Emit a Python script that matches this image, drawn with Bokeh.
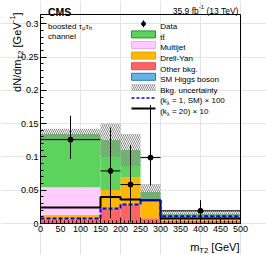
import math
import numpy as np
from bokeh.plotting import figure
from bokeh.models import (Label, BoxAnnotation, Arrow, SingleIntervalTicker,
                          FixedTicker, Range1d, LinearAxis)
from bokeh.embed import file_html
from bokeh.resources import INLINE

# ---------------- data ----------------
bin_edges = [0, 150, 200, 250, 300, 500]
higgs = [0.0003, 0.0003, 0.0003, 0.0003, 0.0002]
other_bkg = [0.006, 0.022, 0.028, 0.0075, 0.004]
drell_yan = [0.007, 0.028, 0.041, 0.026, 0.006]
multijet = [0.041, 0.0, 0.0, 0.0, 0.0]
ttbar = [0.080, 0.075, 0.041, 0.0135, 0.004]
bkg_unc = [0.008, 0.025, 0.024, 0.012, 0.006]
sig_sm_x100 = [0.0075, 0.0225, 0.0285, 0.035, 0.011]
sig_k20_x10 = [0.024, 0.040, 0.036, 0.035, 0.0075]
data_x = [75, 175, 225, 275, 400]
data_y = [0.126, 0.079, 0.0585, 0.099, 0.019]
data_hi = [0.162, 0.144, 0.118, 0.178, 0.035]
data_lo = [0.097, 0.008, 0.002, 0.057, 0.005]
y_ticks = [0.0, 0.05, 0.1, 0.15, 0.2, 0.25, 0.3]
y_tick_labels = ["0", "0.05", "0.1", "0.15", "0.2", "0.25", "0.3"]
y_minor = [0.01 * i for i in range(32)]
legend_labels = ["Data", "t" + "t\u0304", "Multijet", "Drell-Yan", "Other bkg.",
                 "SM Higgs boson", "Bkg. uncertainty"]

GREEN, GREEN_L = "#5cd35c", "#2f8f2f"
PINK, PINK_L = "#ffccff", "#f2a8f2"
ORANGE, ORANGE_L = "#ffb700", "#e8a200"
RED, RED_L = "#ff6464", "#e85050"
BLUE, BLUE_L = "#66b3e6", "#2a7ab8"
HATCH = "#8a8a8a"
FONT = "Liberation Sans"

# ---------------- layout (canvas pixels) ----------------
W, H = 266, 255
FL, FR, FT, FB = 40, 240, 14, 223      # plot box in canvas pixels
X0, X1 = 0, 500
Y0, Y1 = 0, 0.314


def X(px):
    return X0 + (px - FL) / (FR - FL) * (X1 - X0)


def Y(py):
    return Y0 + (FB - py) / (FB - FT) * (Y1 - Y0)


# the frame covers the whole canvas; axes are placed at the plot box edges
p = figure(width=W, height=H, output_backend="svg", toolbar_location=None,
           title=None, x_range=Range1d(X(0), X(W)),
           y_range=Range1d(Y(H), Y(0)),
           x_axis_location=None, y_axis_location=None,
           min_border=0, min_border_left=0, min_border_right=0,
           min_border_top=0, min_border_bottom=0)
p.background_fill_color = "white"
p.border_fill_color = "white"
p.outline_line_color = None

xaxis = LinearAxis(fixed_location=Y0, bounds=(X0, X1),
                   ticker=SingleIntervalTicker(interval=50, num_minor_ticks=5))
yaxis = LinearAxis(fixed_location=X0, bounds=(Y0, Y1),
                   ticker=FixedTicker(ticks=y_ticks, minor_ticks=y_minor))
yaxis.major_label_overrides = dict(zip(y_ticks, y_tick_labels))
for ax in (xaxis, yaxis):
    ax.major_tick_in = 6
    ax.major_tick_out = 0
    ax.minor_tick_in = 3
    ax.minor_tick_out = 0
    ax.major_tick_line_color = "black"
    ax.minor_tick_line_color = "black"
    ax.axis_line_color = "black"
    ax.major_label_text_font = FONT
    ax.major_label_text_font_size = "9px"
    ax.major_label_text_color = "black"
xaxis.major_label_standoff = 2
yaxis.major_label_standoff = 2

# ---------------- stacked histogram ----------------
left = np.array(bin_edges[:-1], dtype=float)
right = np.array(bin_edges[1:], dtype=float)
bottom = np.zeros(len(left))
for vals, col in ((higgs, BLUE), (other_bkg, RED), (drell_yan, ORANGE),
                  (multijet, PINK), (ttbar, GREEN)):
    top = bottom + np.array(vals)
    p.quad(left=left, right=right, bottom=bottom, top=top,
           fill_color=col, line_color=None)
    bottom = top
total = bottom
unc = np.array(bkg_unc)
p.quad(left=left, right=right, bottom=total - unc, top=total + unc,
       fill_color=None, line_color=None, hatch_pattern="\\",
       hatch_color=HATCH, hatch_scale=4, hatch_weight=1)

# signal lines
p.step(x=bin_edges, y=sig_k20_x10 + [sig_k20_x10[-1]], mode="after",
       line_color="black", line_width=2)
p.step(x=bin_edges, y=sig_sm_x100 + [sig_sm_x100[-1]], mode="after",
       line_color="#0000ff", line_width=2, line_dash="4 2")

# data
p.segment(x0=data_x, y0=data_lo, x1=data_x, y1=data_hi,
          line_color="black", line_width=1)
p.segment(x0=left, y0=data_y, x1=right, y1=data_y,
          line_color="black", line_width=1)
p.scatter(x=data_x, y=data_y, size=5, color="black")

# plot box and axes
p.add_layout(BoxAnnotation(left=X0, right=X1, bottom=Y0, top=Y1,
                           fill_alpha=0, line_color="black", line_alpha=1,
                           line_width=1))
p.add_layout(xaxis, "below")
p.add_layout(yaxis, "left")

# ---------------- texts ----------------
CW = {' ': 278, '(': 333, ')': 333, ',': 278, '-': 333, '.': 278, '/': 278,
      '=': 584, '[': 278, ']': 278, 'G': 778, 'M': 833, 'N': 722, 'S': 667,
      'T': 611, 'V': 667, 'C': 722, 'a': 556, 'b': 556, 'c': 500, 'd': 556,
      'e': 556, 'f': 278, 'h': 556, 'k': 500, 'l': 222, 'm': 833, 'n': 556,
      'o': 556, 's': 500, 't': 278, '\u00d7': 584, '\u03bb': 500,
      '\u03c4': 450, '\u03bc': 576}


def tw(s, size):
    return sum(CW.get(c, 556) for c in s) * size / 1000.0


def rich(segs, x, y, size, align="left", angle=0.0, bold=False):
    parts = []
    for t, k in segs:
        if k == "sub":
            s, off = size * 0.7, -size * 0.28
        elif k == "sup":
            s, off = size * 0.7, size * 0.42
        else:
            s, off = size, 0.0
        parts.append((t, s, off, tw(t, s) * (1.07 if bold else 1.0)))
    total_w = sum(q[3] for q in parts)
    if angle == 0:
        cur = x - total_w if align == "right" else x
    else:
        cur = y + total_w
    for t, s, off, w in parts:
        lead = tw(" " * (len(t) - len(t.lstrip(" "))), s)
        kw = dict(text=t.strip(), text_font=FONT, text_font_size=f"{s:.2f}px",
                  text_color="black", text_align="left",
                  text_baseline="alphabetic",
                  text_font_style="bold" if bold else "normal")
        if angle == 0:
            p.add_layout(Label(x=X(cur + lead), y=Y(y - off), **kw))
            cur += w
        else:
            p.add_layout(Label(x=X(x - off), y=Y(cur - lead),
                               angle=angle, **kw))
            cur -= w


rich([("CMS", "n")], 47.5, 11.5, 10.5, bold=True)
rich([("35.9 fb", "n"), ("-1", "sup"), (" (13 TeV)", "n")], 239, 10.5, 8.5,
     align="right")
rich([("boosted \u03c4", "n"), ("\u03bc", "sub"), ("\u03c4", "n"), ("h", "sub")],
     47.5, 25.5, 8)
rich([("channel", "n")], 47.5, 36, 8)
rich([("m", "n"), ("T2", "sub"), (" [GeV]", "n")], 239, 246.5, 11, align="right")
rich([("dN/dm", "n"), ("T2", "sub"), (" [GeV", "n"), ("-1", "sup"), ("]", "n")],
     16.5, 12, 11, angle=math.pi / 2)

# ---------------- legend ----------------
SX0, SX1, TX = 131, 155, 159.7


def row(i):
    return 23.3 + 10.6 * i


# Data entry
yc = row(0)
p.add_layout(Arrow(end=None, x_start=X(143), y_start=Y(yc - 3.5),
                   x_end=X(143), y_end=Y(yc + 3.5), line_color="black",
                   line_width=1))
p.add_layout(BoxAnnotation(left=X(141), right=X(145), bottom=Y(yc + 2),
                           top=Y(yc - 2), fill_color="black", fill_alpha=1,
                           line_color="black", line_alpha=1, border_radius=2))
# filled entries
for i, (fc, lc) in enumerate(((GREEN, GREEN_L), (PINK, PINK_L),
                              (ORANGE, ORANGE_L), (RED, RED_L),
                              (BLUE, BLUE_L)), start=1):
    yc = row(i)
    p.add_layout(BoxAnnotation(left=X(SX0), right=X(SX1), bottom=Y(yc + 3.5),
                               top=Y(yc - 3.5), fill_color=fc, fill_alpha=1,
                               line_color=lc, line_alpha=1, line_width=1))
yc = row(6)
p.add_layout(BoxAnnotation(left=X(SX0), right=X(SX1), bottom=Y(yc + 3.5),
                           top=Y(yc - 3.5), fill_alpha=0, line_alpha=0,
                           hatch_pattern="\\", hatch_color=HATCH,
                           hatch_scale=4, hatch_weight=1))
yc = row(7)
p.add_layout(Arrow(end=None, x_start=X(SX0), y_start=Y(yc), x_end=X(SX1),
                   y_end=Y(yc), line_color="#0000ff", line_width=1.5,
                   line_dash="3 2"))
yc = row(8)
p.add_layout(Arrow(end=None, x_start=X(SX0), y_start=Y(yc), x_end=X(SX1),
                   y_end=Y(yc), line_color="black", line_width=2))

for i, lab in enumerate(legend_labels):
    rich([(lab, "n")], TX, row(i) + 2.9, 8)
rich([("(k", "n"), ("\u03bb", "sub"), (" = 1, SM) \u00d7 100", "n")],
     TX, row(7) + 2.9, 8)
rich([("(k", "n"), ("\u03bb", "sub"), (" = 20) \u00d7 10", "n")],
     TX, row(8) + 2.9, 8)

open("out.html", "w").write(file_html(p, INLINE))
